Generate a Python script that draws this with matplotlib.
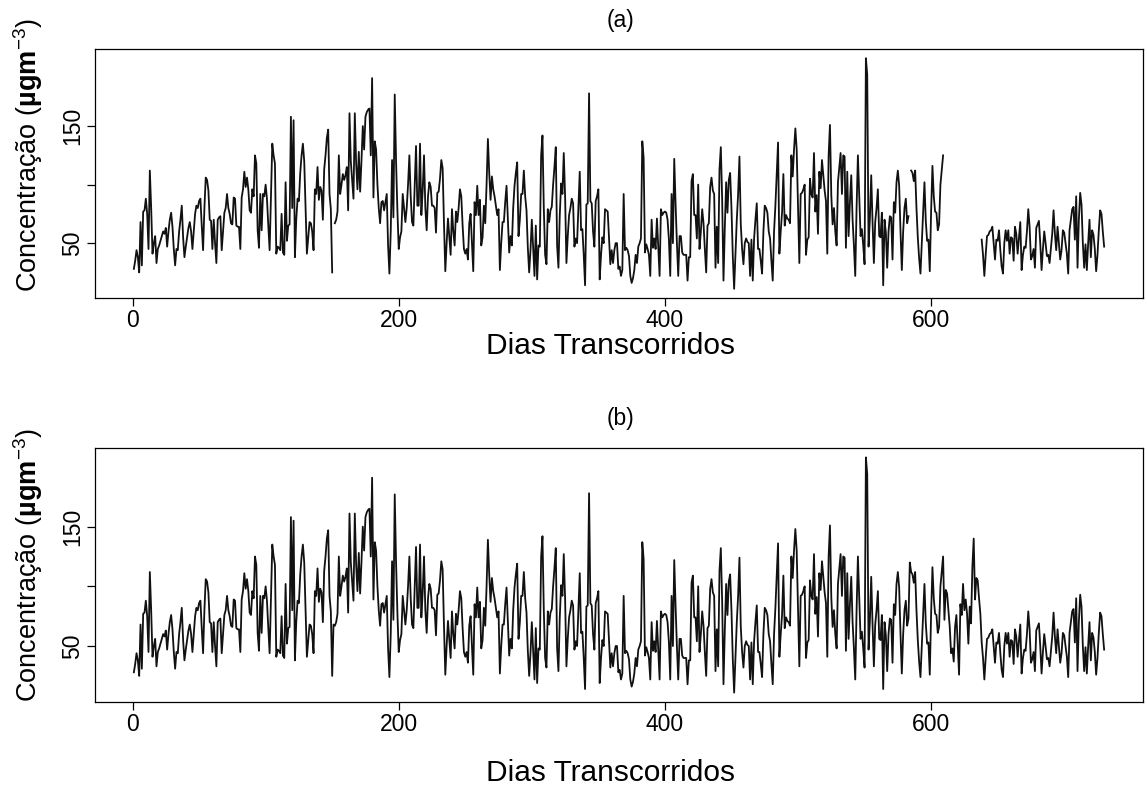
import numpy as np
import matplotlib
matplotlib.use("Agg")
import matplotlib.pyplot as plt

plt.rcParams['font.family'] = ['Liberation Sans', 'DejaVu Sans']
plt.rcParams['mathtext.fontset'] = 'custom'
plt.rcParams['mathtext.rm'] = 'Liberation Sans'
plt.rcParams['mathtext.bf'] = 'Liberation Sans:bold'

# daily concentration (ug/m3), day 1..730; None = missing in the raw series
conc = [
    28, 35, 44, 38, 25, 68, 31, 77, 78, 88,
    75, 45, 112, 80, 41, 50, 56, 33, 45, 48,
    52, 56, 60, 58, 63, 47, 60, 70, 76, 64,
    45, 31, 45, 44, 60, 70, 82, 55, 38, 47,
    55, 63, 68, 60, 45, 60, 75, 82, 80, 86,
    88, 65, 44, 80, 106, 104, 95, 70, 69, 45,
    70, 50, 33, 70, 72, 73, 44, 60, 76, 80,
    92, 80, 75, 67, 66, 89, 88, 65, 64, 64,
    45, 89, 96, 111, 98, 106, 96, 78, 76, 96,
    90, 125, 118, 61, 46, 92, 61, 92, 90, 100,
    88, 65, 44, 90, 135, 125, 118, 41, 47, 46,
    44, 75, 42, 40, 102, 52, 65, 66, 158, 80,
    155, 38, 70, 88, 86, 110, 125, 135, 120, 80,
    41, 55, 68, 67, 60, 44, 96, 92, 115, 87,
    98, 95, 70, 113, 125, 140, 147, 92, 79, 25,
    None, 67, 70, 77, 125, 92, 100, 109, 104, 108,
    115, 78, 161, 120, 104, 88, 161, 118, 96, 128,
    94, 120, 150, 130, 158, 162, 164, 165, 125, 191,
    89, 137, 130, 100, 80, 67, 85, 86, 78, 85,
    92, 48, 24, 60, 121, 72, 177, 120, 78, 45,
    55, 60, 92, 80, 68, 80, 100, 125, 90, 68,
    65, 100, 133, 82, 82, 135, 74, 95, 125, 80,
    61, 90, 102, 98, 82, 82, 80, 59, 93, 94,
    105, 121, 114, 67, 26, 50, 71, 56, 40, 79,
    60, 48, 77, 68, 80, 96, 90, 65, 45, 41,
    45, 36, 67, 75, 50, 26, 85, 74, 99, 74,
    87, 48, 55, 82, 67, 100, 139, 110, 87, 107,
    96, 90, 82, 74, 79, 27, 50, 68, 68, 85,
    99, 70, 42, 56, 48, 80, 99, 110, 119, 56,
    70, 92, 92, 112, 90, 78, 46, 25, 44, 70,
    45, 22, 65, 19, 48, 47, 125, 142, 80, 40,
    32, 79, 68, 78, 81, 100, 115, 132, 48, 29,
    74, 101, 92, 127, 90, 33, 56, 74, 80, 88,
    84, 47, 54, 50, 80, 111, 61, 62, 40, 14,
    83, 84, 178, 86, 84, 60, 47, 86, 90, 96,
    19, 40, 55, 50, 79, 78, 77, 55, 32, 44,
    33, 44, 50, 50, 28, 30, 22, 27, 92, 44,
    46, 44, 39, 22, 16, 20, 27, 40, 33, 47,
    50, 54, 137, 123, 42, 49, 45, 40, 22, 70,
    46, 54, 45, 71, 46, 22, 79, 74, 76, 77,
    76, 70, 53, 22, 92, 50, 122, 84, 50, 22,
    56, 56, 42, 40, 40, 40, 18, 38, 38, 103,
    109, 74, 74, 54, 100, 45, 60, 79, 67, 45,
    25, 65, 67, 98, 106, 95, 92, 29, 64, 33,
    113, 132, 88, 18, 63, 102, 76, 104, 110, 80,
    39, 11, 40, 70, 92, 124, 66, 45, 32, 50,
    54, 51, 50, 22, 53, 18, 54, 70, 84, 45,
    45, 35, 24, 60, 82, 80, 76, 60, 54, 35,
    18, 60, 82, 110, 136, 41, 60, 76, 109, 65,
    74, 71, 70, 67, 125, 107, 130, 148, 130, 80,
    33, 92, 93, 96, 100, 40, 53, 55, 105, 92,
    89, 127, 77, 91, 58, 111, 97, 121, 108, 95,
    86, 41, 125, 151, 91, 66, 80, 60, 48, 102,
    115, 127, 92, 125, 124, 46, 111, 56, 85, 108,
    70, 48, 22, 80, 125, 90, 56, 62, 48, 32,
    208, 194, 47, 71, 108, 68, 33, 68, 80, 96,
    56, 55, 76, 14, 70, 59, 29, 60, 73, 72,
    36, 85, 76, 102, 112, 99, 60, 27, 60, 80,
    88, 67, 73, None, 112, 110, 103, 112, 80, 55,
    37, 24, 50, 77, 102, 69, 52, 53, 26, 77,
    116, 90, 77, 76, 61, 66, 100, 112, 125, None,
    None, None, None, None, None, None, None, None, None, None,
    None, None, None, None, None, None, None, None, None, None,
    None, None, None, None, None, None, None, 53, 40, 22,
    40, 56, 57, 60, 61, 64, 50, 36, 53, 52,
    61, 44, 30, 24, 50, 61, 52, 61, 41, 55,
    54, 35, 64, 58, 41, 55, 68, 27, 40, 47,
    46, 60, 79, 64, 36, 39, 45, 29, 63, 66,
    69, 50, 27, 45, 60, 50, 39, 40, 33, 45,
    58, 78, 58, 44, 64, 50, 36, 44, 61, 59,
    50, 41, 24, 61, 70, 79, 81, 53, 90, 29,
    70, 93, 83, 50, 29, 49, 27, 50, 70, 38,
    61, 57, 45, 26, 40, 61, 78, 75, 60, 47,
]

# values used to fill the missing days in panel (b)
fill_days = [151, 584] + list(range(610, 638))
fill_vals = [68, 120,
             72, 97, 94, 80, 66, 44, 48, 37, 66, 76, 50, 26, 85, 76,
             102, 80, 89, 77, 52, 83, 69, 116, 140, 89, 107, 105, 90, 77]

days = np.arange(1, len(conc) + 1)
raw = np.array([np.nan if v is None else v for v in conc], dtype=float)
filled = raw.copy()
for d, v in zip(fill_days, fill_vals):
    filled[d - 1] = v

fig = plt.figure(figsize=(11.47, 7.86), dpi=100)
W, H = 1147, 786

def panel(top, bottom, y, title, title_y, xlab_y, ylab_y):
    ax = fig.add_axes([95 / W, 1 - bottom / H, 1048 / W, (bottom - top) / H])
    ax.plot(days, y, color='#111111', lw=1.3)
    ax.set_xlim(-28.2, 759.2)
    lo, hi = np.nanmin(y), np.nanmax(y)
    pad = (hi - lo) * 0.04
    ax.set_ylim(lo - pad, hi + pad)
    ax.set_xticks([0, 200, 400, 600])
    ax.set_yticks([50, 100, 150])
    ax.set_yticklabels(['50', '', '150'], rotation=90, va='center')
    ax.tick_params(direction='out', length=6, width=0.9, labelsize=16.5, pad=2)
    for s in ax.spines.values():
        s.set_linewidth(0.9)
    fig.text(620 / W, 1 - title_y / H, title, ha='center', va='center', fontsize=16.5)
    fig.text(610 / W, 1 - xlab_y / H, 'Dias Transcorridos', ha='center', va='center', fontsize=21.5)
    fig.text(28 / W, 1 - ylab_y / H, r'Concentração ($\mathbf{µgm}^{-3}$)',
             rotation=90, ha='center', va='center', fontsize=19.5)
    return ax

panel(49, 298, raw, '(a)', 20, 346, 155)
panel(448, 702, filled, '(b)', 418, 773, 565)

fig.savefig('out.png', dpi=100)
